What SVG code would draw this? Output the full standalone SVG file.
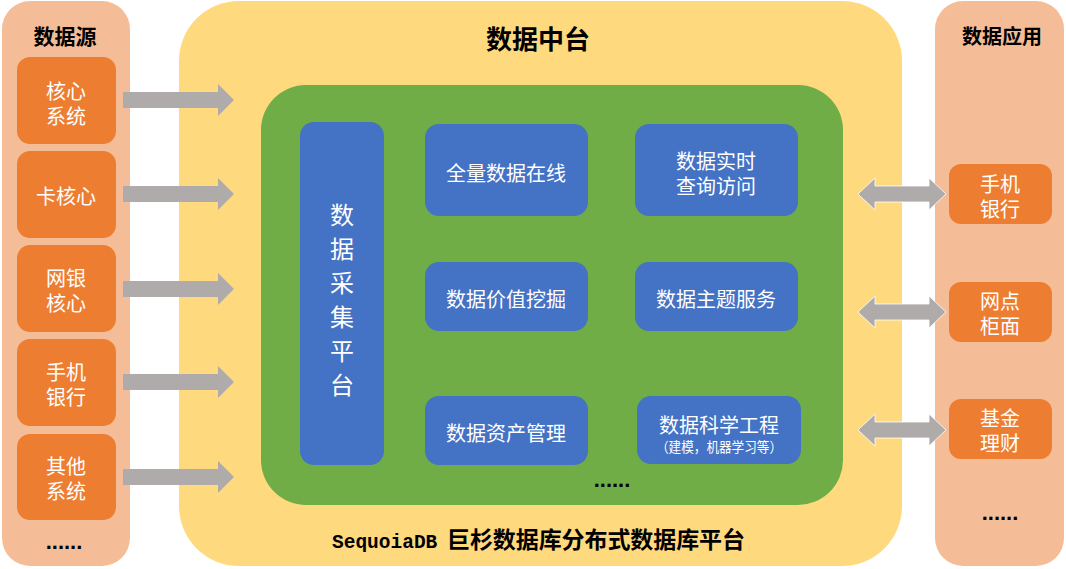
<svg xmlns="http://www.w3.org/2000/svg" width="1066" height="569" viewBox="0 0 1066 569">
<style>
.panel{fill:#F5BD97}
.obox{fill:#ED7D31}
.bbox{fill:#4472C4}
.t{font-family:"Noto Sans CJK SC","Noto Sans",sans-serif;text-anchor:middle;dominant-baseline:central}
.w{fill:#FFFFFF;font-size:20px}
.big{fill:#FFFFFF;font-size:24px}
.sub{fill:#FFFFFF;font-size:14px}
.h{fill:#000000;font-weight:bold}
.dots{font-family:"Liberation Sans",sans-serif;font-weight:bold;font-size:22px;fill:#000;text-anchor:middle}
.arr{fill:#AFABAB}
.darr{fill:#AFABAB;stroke:#FFFFFF;stroke-width:0.8}
</style>
<rect width="1066" height="569" fill="#FFFFFF"/>

<g id="sources-panel">
<rect class="panel" x="2" y="1" width="128" height="565" rx="28"/>
<text class="t h" x="65" y="35" font-size="21">数据源</text>
<text class="dots" x="64" y="549">......</text>
</g>
<g id="src-core">
<rect class="obox" x="17" y="57" width="99" height="87" rx="13"/>
<text class="t w" x="66" y="90">核心</text>
<text class="t w" x="66" y="115">系统</text>
</g>
<g id="src-card">
<rect class="obox" x="17" y="151" width="99" height="87" rx="13"/>
<text class="t w" x="66" y="195">卡核心</text>
</g>
<g id="src-netbank">
<rect class="obox" x="17" y="245" width="99" height="87" rx="13"/>
<text class="t w" x="66" y="277">网银</text>
<text class="t w" x="66" y="302">核心</text>
</g>
<g id="src-mobile">
<rect class="obox" x="17" y="339" width="99" height="87" rx="13"/>
<text class="t w" x="66" y="371">手机</text>
<text class="t w" x="66" y="396">银行</text>
</g>
<g id="src-other">
<rect class="obox" x="17" y="434" width="99" height="86" rx="13"/>
<text class="t w" x="66" y="465">其他</text>
<text class="t w" x="66" y="490">系统</text>
</g>

<g id="middle-platform">
<rect x="179" y="1" width="723" height="565" rx="60" fill="#FFD97E"/>
<text class="t h" x="538" y="37" font-size="26">数据中台</text>
<text class="h" x="332" y="548" font-family="Liberation Mono,monospace" font-size="19.5">SequoiaDB</text>
<text class="h" x="447" y="548" font-family="Noto Sans CJK SC,sans-serif" font-size="23" textLength="298" lengthAdjust="spacing">巨杉数据库分布式数据库平台</text>
</g>
<g id="core-area">
<rect x="261" y="85" width="582" height="420" rx="45" fill="#70AD47"/>
<text class="dots" x="612" y="487">......</text>
</g>
<g id="collect">
<rect class="bbox" x="300" y="122" width="84" height="343" rx="14"/>
<text class="t big" x="342" y="213">数</text>
<text class="t big" x="342" y="247">据</text>
<text class="t big" x="342" y="281">采</text>
<text class="t big" x="342" y="315">集</text>
<text class="t big" x="342" y="349">平</text>
<text class="t big" x="342" y="383">台</text>
</g>
<g id="full-online">
<rect class="bbox" x="425" y="124" width="163" height="92" rx="14"/>
<text class="t w" x="506" y="172">全量数据在线</text>
</g>
<g id="realtime">
<rect class="bbox" x="635" y="124" width="163" height="92" rx="14"/>
<text class="t w" x="716" y="160">数据实时</text>
<text class="t w" x="716" y="185">查询访问</text>
</g>
<g id="value-mining">
<rect class="bbox" x="425" y="262" width="163" height="69" rx="14"/>
<text class="t w" x="506" y="298">数据价值挖掘</text>
</g>
<g id="topic-service">
<rect class="bbox" x="635" y="262" width="163" height="69" rx="14"/>
<text class="t w" x="716" y="298">数据主题服务</text>
</g>
<g id="asset-mgmt">
<rect class="bbox" x="425" y="396" width="163" height="69" rx="14"/>
<text class="t w" x="506" y="432">数据资产管理</text>
</g>
<g id="data-science">
<rect class="bbox" x="637" y="396" width="164" height="68" rx="14"/>
<text class="t w" x="719" y="424">数据科学工程</text>
<text class="t sub" x="719" y="446" textLength="126" lengthAdjust="spacingAndGlyphs">（建模，机器学习等）</text>
</g>

<g id="apps-panel">
<rect class="panel" x="935" y="1" width="129" height="565" rx="28"/>
<text class="t h" x="1002" y="35" font-size="20">数据应用</text>
<text class="dots" x="1000" y="520">......</text>
</g>
<g id="app-mobile">
<rect class="obox" x="949" y="164" width="103" height="60" rx="12"/>
<text class="t w" x="1000" y="183">手机</text>
<text class="t w" x="1000" y="208">银行</text>
</g>
<g id="app-counter">
<rect class="obox" x="949" y="282" width="103" height="60" rx="12"/>
<text class="t w" x="1000" y="300">网点</text>
<text class="t w" x="1000" y="325">柜面</text>
</g>
<g id="app-fund">
<rect class="obox" x="949" y="399" width="103" height="60" rx="12"/>
<text class="t w" x="1000" y="417">基金</text>
<text class="t w" x="1000" y="442">理财</text>
</g>

<g id="connectors">
<path class="arr" d="M123,92 L218,92 L218,84 L234,100 L218,116 L218,108 L123,108 Z"/>
<path class="arr" d="M123,186 L218,186 L218,178 L234,194 L218,210 L218,202 L123,202 Z"/>
<path class="arr" d="M123,281 L218,281 L218,273 L234,289 L218,305 L218,297 L123,297 Z"/>
<path class="arr" d="M123,374 L218,374 L218,366 L234,382 L218,398 L218,390 L123,390 Z"/>
<path class="arr" d="M123,469 L218,469 L218,461 L234,477 L218,493 L218,485 L123,485 Z"/>
<path class="darr" d="M858,194 L875,178 L875,186 L929,186 L929,178 L946,194 L929,210 L929,202 L875,202 L875,210 Z"/>
<path class="darr" d="M858,312 L875,296 L875,304 L929,304 L929,296 L946,312 L929,328 L929,320 L875,320 L875,328 Z"/>
<path class="darr" d="M858,430 L875,414 L875,422 L929,422 L929,414 L946,430 L929,446 L929,438 L875,438 L875,446 Z"/>
</g>
</svg>
